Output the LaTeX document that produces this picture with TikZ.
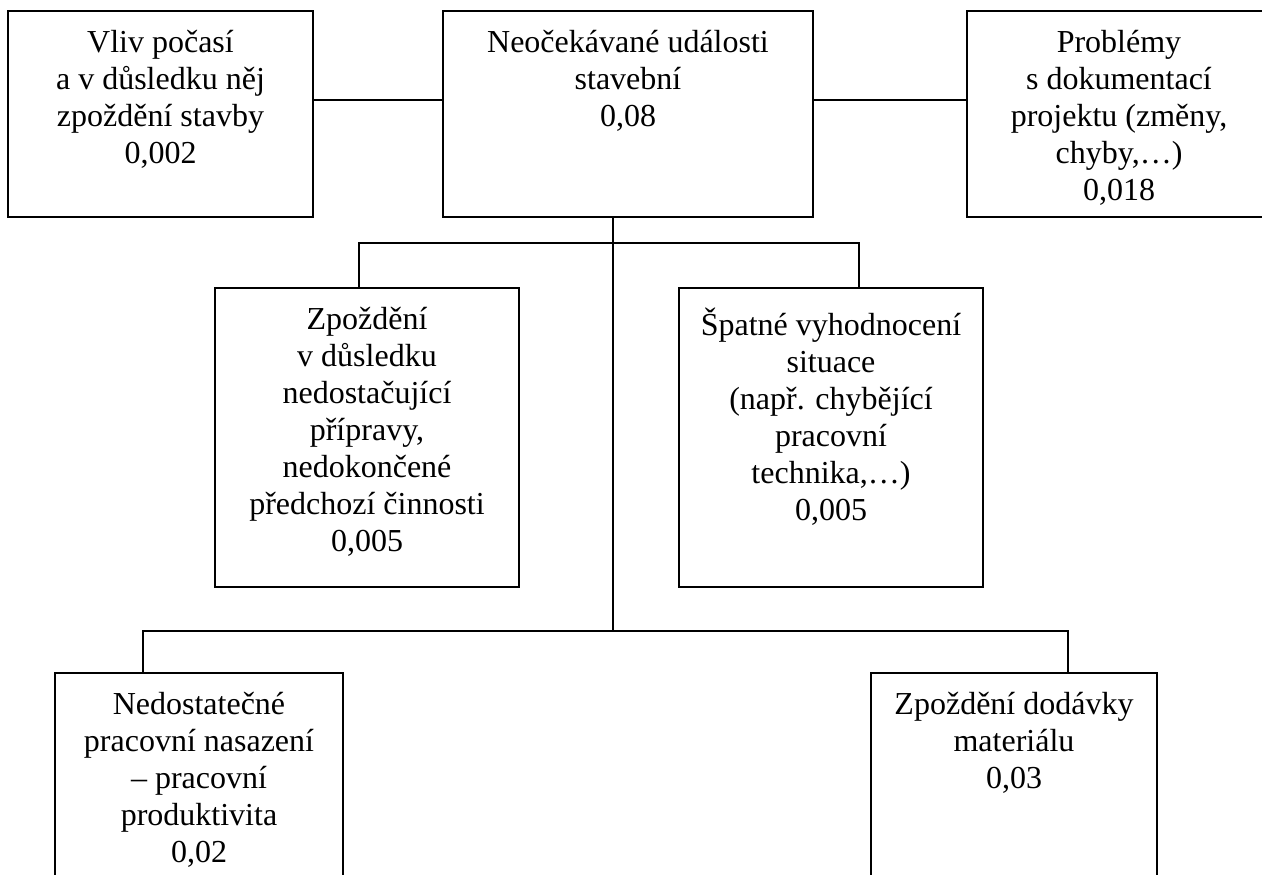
\documentclass[tikz,border=0pt]{standalone}
\usepackage{fontspec}
\setmainfont{Liberation Serif}
\usetikzlibrary{positioning}

\begin{document}
\begin{tikzpicture}[
    x=0.5pt, y=-0.5pt,
    blok/.style = {
        draw, rectangle, line width=1pt, anchor=north west,
        inner sep=0pt, outer sep=0pt, minimum height=103pt
    },
    popis/.style = {
        align=center, anchor=north, inner sep=0pt,
        font=\fontsize{16}{18.5}\selectfont,
        execute at begin node=\strut
    },
    spoj/.style = {line width=1pt}
  ]
    \useasboundingbox (0,0) rectangle (1262,874);
    \clip (0,0) rectangle (1262,874);

    % horni rada
    \node[blok, minimum width=152.5pt] (pocasi) at (8,11) {};
    \node[blok, minimum width=185pt] (stavba) at (443,11) {};
    \node[blok, minimum width=152pt] (problemy) at (967,11) {};
    % prostredni rada
    \node[blok, minimum width=152pt, minimum height=149.5pt] (priprava) at (215,288) {};
    \node[blok, minimum width=152pt, minimum height=149.5pt] (situace) at (679,288) {};
    % spodni rada (oriznuta)
    \node[blok, minimum width=144pt, minimum height=113.5pt] (nasazeni) at (55,673) {};
    \node[blok, minimum width=143pt, minimum height=113.5pt] (material) at (871,673) {};

    % texty
    \node[popis] (pocasiT) at ([yshift=-9.6pt]pocasi.north)
        {Vliv počasí\\a v důsledku něj\\zpoždění stavby\\0,002};
    \node[popis] (stavbaT) at ([yshift=-9.6pt]stavba.north)
        {Neočekávané události\\stavební\\0,08};
    \node[popis] (problemyT) at ([yshift=-9.6pt]problemy.north)
        {Problémy\\s dokumentací\\projektu (změny,\\chyby,…)\\0,018};
    \node[popis] (pripravaT) at ([yshift=-9.6pt]priprava.north)
        {Zpoždění\\v důsledku\\nedostačující\\přípravy,\\nedokončené\\předchozí činnosti\\0,005};
    \node[popis] (situaceT) at ([yshift=-9.6pt]situace.north)
        {Špatné vyhodnocení\\situace\\(např. chybějící\\pracovní\\technika,…)\\0,005};
    \node[popis] (nasazeniT) at ([yshift=-9.6pt]nasazeni.north)
        {Nedostatečné\\pracovní nasazení\\– pracovní\\produktivita\\0,02};
    \node[popis] (materialT) at ([yshift=-9.6pt]material.north)
        {Zpoždění dodávky\\materiálu\\0,03};

    % body vetveni
    \coordinate (h) at (0,100);
    \coordinate (uzel1) at (613,243);
    \coordinate (uzel2) at (613,631);
    \coordinate (v1) at (359,243);
    \coordinate (v2) at (859,243);
    \coordinate (d1) at (143,631);
    \coordinate (d2) at (1068,631);

    % spojnice
    \draw[spoj] (pocasi.east |- h) -- (stavba.west |- h);
    \draw[spoj] (stavba.east |- h) -- (problemy.west |- h);
    \draw[spoj] (stavba.south -| uzel1) -- (uzel2);
    \draw[spoj] (v1 |- priprava.north) -- (v1) -- (v2) -- (v2 |- situace.north);
    \draw[spoj] (d1 |- nasazeni.north) -- (d1) -- (d2) -- (d2 |- material.north);
\end{tikzpicture}
\end{document}
